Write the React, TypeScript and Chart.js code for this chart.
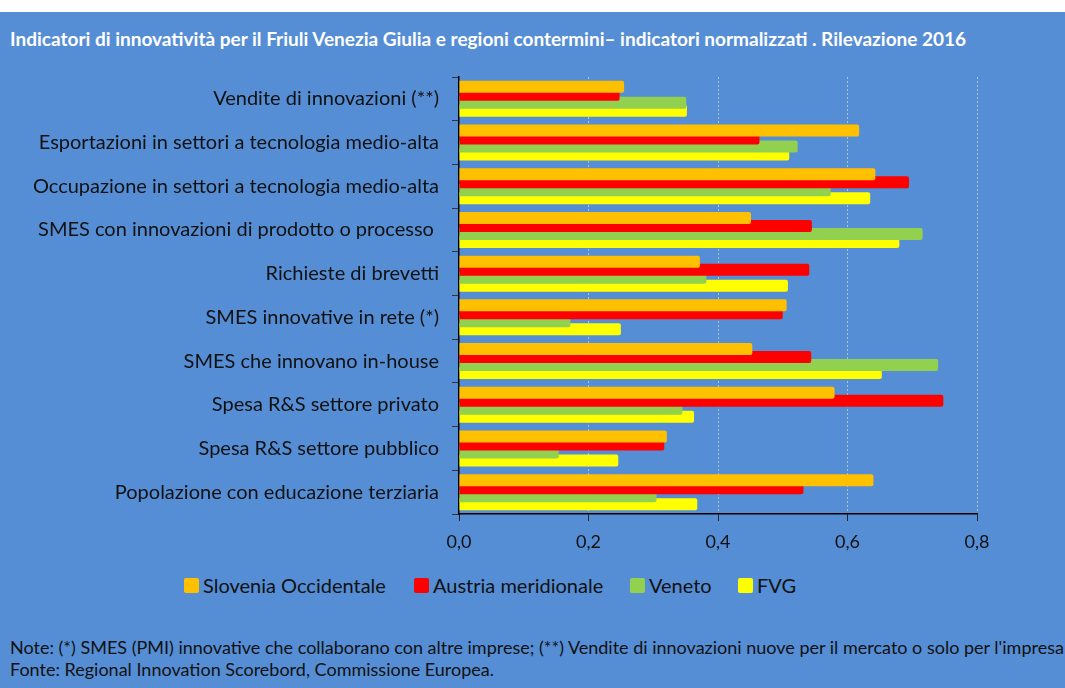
import React, { useEffect, useRef } from "react";
import { Chart, registerables } from "chart.js";

Chart.register(...registerables);

const categories = [
  "Vendite di innovazioni (**)",
  "Esportazioni in settori a tecnologia medio-alta",
  "Occupazione in settori a tecnologia medio-alta",
  "SMES con innovazioni di prodotto o processo ",
  "Richieste di brevetti",
  "SMES innovative in rete (*)",
  "SMES che innovano in-house",
  "Spesa R&S settore privato",
  "Spesa R&S settore pubblico",
  "Popolazione con educazione terziaria",
];

const seriesNames = ["Slovenia Occidentale", "Austria meridionale", "Veneto", "FVG"];
const sloveniaValues = [0.255, 0.618, 0.643, 0.451, 0.372, 0.506, 0.453, 0.58, 0.321, 0.64];
const austriaValues = [0.248, 0.464, 0.695, 0.545, 0.541, 0.5, 0.544, 0.748, 0.317, 0.532];
const venetoValues = [0.351, 0.523, 0.574, 0.716, 0.382, 0.172, 0.74, 0.345, 0.154, 0.305];
const fvgValues = [0.352, 0.51, 0.635, 0.68, 0.508, 0.25, 0.653, 0.363, 0.246, 0.368];
const xTickValues = [0, 0.2, 0.4, 0.6, 0.8];

const seriesColors = ["#FFC000", "#FF0000", "#92D050", "#FFFF00"];

const titleText =
  "Indicatori di innovatività per il Friuli Venezia Giulia e regioni contermini– indicatori normalizzati . Rilevazione 2016";
const noteText =
  "Note: (*) SMES (PMI) innovative che collaborano con altre imprese; (**) Vendite di innovazioni nuove per il mercato o solo per l'impresa";
const sourceText = "Fonte: Regional Innovation Scorebord, Commissione Europea.";

const BG = "#558ED5";
const FONT = "Lato, 'Open Sans', sans-serif";

export default function App() {
  const canvasRef = useRef<HTMLCanvasElement | null>(null);

  useEffect(() => {
    document.body.style.margin = "0";
    const canvas = canvasRef.current;
    if (!canvas) return;
    const allValues = [sloveniaValues, austriaValues, venetoValues, fvgValues];
    const chart = new Chart(canvas, {
      type: "bar",
      data: {
        labels: categories,
        datasets: allValues.map((vals, i) => ({
          label: seriesNames[i],
          data: vals,
          backgroundColor: seriesColors[i],
          borderWidth: 0,
          borderRadius: 2,
          borderSkipped: "start",
          categoryPercentage: 0.733,
          barPercentage: 1.5,
        })),
      },
      options: {
        indexAxis: "y",
        responsive: false,
        animation: false,
        layout: { padding: { top: 17, right: 88, bottom: 0, left: 0 } },
        plugins: {
          legend: { display: false },
          tooltip: { enabled: false },
          title: { display: false },
        },
        scales: {
          x: {
            min: 0,
            max: 0.8,
            afterBuildTicks: (s: any) => {
              s.ticks = xTickValues.map((v) => ({ value: v }));
            },
            afterFit: (s: any) => {
              s.height = 40;
              s.paddingLeft = 0;
              s.paddingRight = 0;
            },
            ticks: {
              color: "#111",
              font: { family: FONT, size: 18 },
              padding: 10,
              callback: (v: any) => Number(v).toFixed(1).replace(".", ","),
            },
            grid: {
              display: true,
              drawOnChartArea: true,
              drawTicks: true,
              tickLength: 7,
              tickColor: "#222",
              tickWidth: 1,
              tickBorderDash: [],
              color: (ctx: any) => (ctx.index === 0 ? "rgba(0,0,0,0)" : "rgba(215,215,215,0.7)"),
              lineWidth: 1,
            },
            border: { display: true, color: "#000", width: 1.5, dash: [2, 2] },
          },
          y: {
            type: "category",
            afterFit: (s: any) => {
              s.width = 459;
              s.paddingTop = 0;
              s.paddingBottom = 0;
            },
            ticks: {
              color: "#111",
              font: { family: FONT, size: 20 },
              padding: 13,
              autoSkip: false,
            },
            grid: {
              display: true,
              drawOnChartArea: false,
              drawTicks: true,
              tickLength: 7,
              tickColor: "#333",
              offset: true,
            },
            border: { display: true, color: "#000", width: 1.5 },
          },
        },
      },
    });
    return () => chart.destroy();
  }, []);

  const legendLefts = [184, 414, 630, 738];

  return (
    <div
      style={{
        position: "absolute",
        left: 0,
        top: 0,
        width: 1065,
        height: 688,
        background: "#fff",
        overflow: "hidden",
        fontFamily: FONT,
      }}
    >
      <div style={{ position: "absolute", left: 0, top: 12, width: 1065, height: 676, background: BG }} />
      <div
        style={{
          position: "absolute",
          left: 10,
          top: 28,
          color: "#fff",
          fontWeight: 700,
          fontSize: 19,
          lineHeight: "22px",
          whiteSpace: "nowrap",
        }}
      >
        {titleText}
      </div>
      <canvas
        ref={canvasRef}
        width={1065}
        height={494}
        style={{ position: "absolute", left: 0, top: 60, width: 1065, height: 494 }}
      />
      {seriesNames.map((name, i) => (
        <div
          key={name}
          style={{
            position: "absolute",
            left: legendLefts[i],
            top: 573,
            height: 24,
            display: "flex",
            alignItems: "center",
            whiteSpace: "nowrap",
          }}
        >
          <span
            style={{
              display: "inline-block",
              width: 15,
              height: 15,
              borderRadius: 2,
              background: seriesColors[i],
              marginRight: 4,
            }}
          />
          <span style={{ color: "#111", fontSize: 20, lineHeight: "24px" }}>{name}</span>
        </div>
      ))}
      <div
        style={{
          position: "absolute",
          left: 10,
          top: 636,
          color: "#111",
          fontSize: 18,
          lineHeight: "22px",
          whiteSpace: "nowrap",
        }}
      >
        <div>{noteText}</div>
        <div>{sourceText}</div>
      </div>
    </div>
  );
}
